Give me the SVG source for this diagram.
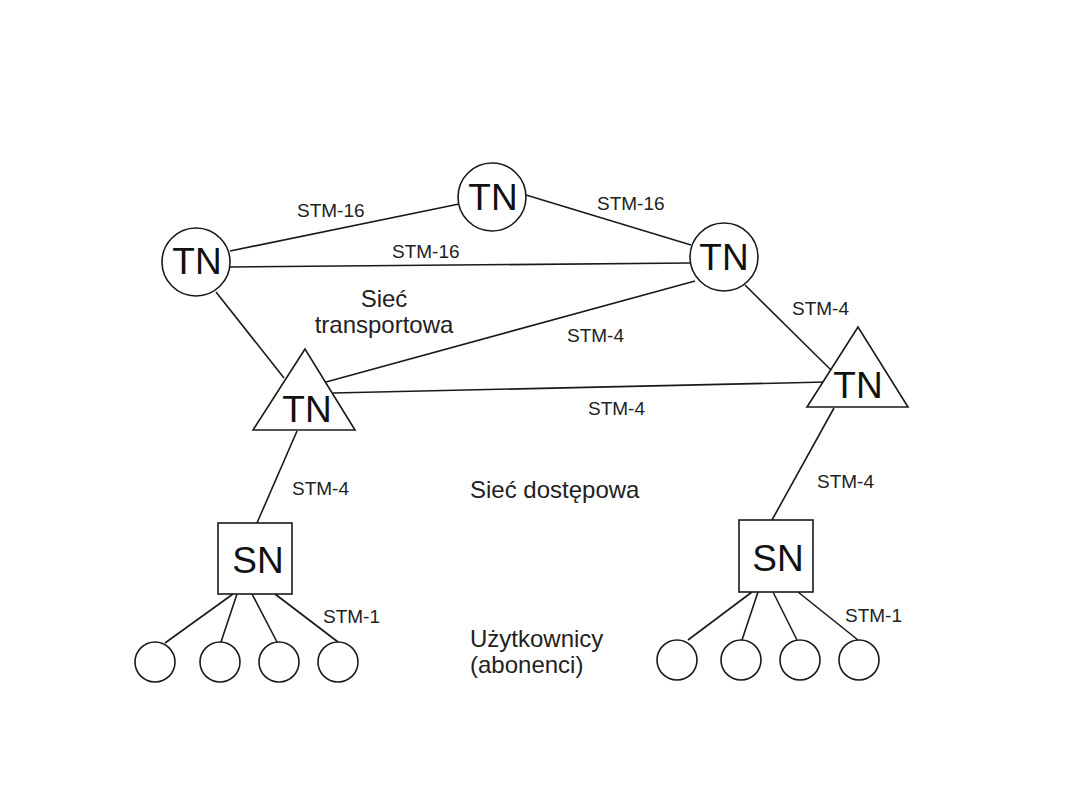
<svg xmlns="http://www.w3.org/2000/svg" width="1080" height="810" viewBox="0 0 1080 810">
<style>
.shape{fill:#fff;stroke:#1a1a1a;stroke-width:1.6}
.conn line{stroke:#1a1a1a;stroke-width:1.6}
.big{font-family:"Liberation Sans",Arial,sans-serif;font-size:37px;fill:#111;text-anchor:middle}
.lbl{font-family:"Liberation Sans",Arial,sans-serif;font-size:19px;fill:#222}
.txt{font-family:"Liberation Sans",Arial,sans-serif;font-size:24px;fill:#222}
</style>
<rect width="1080" height="810" fill="#fff"/>
<g id="connectors" class="conn">
<line x1="230" y1="251" x2="459" y2="204"/>
<line x1="526" y1="195" x2="691" y2="245"/>
<line x1="230" y1="267" x2="690" y2="263"/>
<line x1="216" y1="292" x2="284" y2="378"/>
<line x1="695" y1="281" x2="326" y2="382"/>
<line x1="333" y1="393" x2="826" y2="382"/>
<line x1="745" y1="285" x2="831" y2="370"/>
<line x1="297" y1="431" x2="257" y2="523"/>
<line x1="834" y1="408" x2="772" y2="520"/>
<line x1="233" y1="594" x2="165" y2="643"/>
<line x1="237" y1="594" x2="221" y2="642"/>
<line x1="252" y1="594" x2="277" y2="642"/>
<line x1="275" y1="594" x2="338" y2="642"/>
<line x1="752" y1="592" x2="688" y2="640"/>
<line x1="758" y1="592" x2="742" y2="640"/>
<line x1="773" y1="592" x2="797" y2="640"/>
<line x1="798" y1="592" x2="858" y2="640"/>
</g>
<g id="tn-top"><circle class="shape" cx="492" cy="197" r="34"/><text class="big" x="493" y="210">TN</text></g>
<g id="tn-left"><circle class="shape" cx="196" cy="262" r="34"/><text class="big" x="197" y="274">TN</text></g>
<g id="tn-right"><circle class="shape" cx="724" cy="257" r="34"/><text class="big" x="724" y="270">TN</text></g>
<g id="tn-tri-left"><polygon class="shape" points="305,349 253,430 355,430"/><text class="big" x="307" y="422">TN</text></g>
<g id="tn-tri-right"><polygon class="shape" points="858,327 807,407 908,407"/><text class="big" x="858" y="398">TN</text></g>
<g id="sn-left"><rect class="shape" x="218" y="523" width="74" height="71"/><text class="big" x="258" y="573">SN</text></g>
<g id="sn-right"><rect class="shape" x="739" y="520" width="74" height="72"/><text class="big" x="778" y="571">SN</text></g>
<g id="users-left">
<circle class="shape" cx="155" cy="662" r="20"/>
<circle class="shape" cx="220" cy="662" r="20"/>
<circle class="shape" cx="279" cy="662" r="20"/>
<circle class="shape" cx="338" cy="662" r="20"/>
</g>
<g id="users-right">
<circle class="shape" cx="677" cy="660" r="20"/>
<circle class="shape" cx="741" cy="660" r="20"/>
<circle class="shape" cx="800" cy="660" r="20"/>
<circle class="shape" cx="859" cy="660" r="20"/>
</g>
<g id="labels">
<text class="lbl" x="297" y="217">STM-16</text>
<text class="lbl" x="392" y="258">STM-16</text>
<text class="lbl" x="597" y="210">STM-16</text>
<text class="lbl" x="792" y="315">STM-4</text>
<text class="lbl" x="567" y="342">STM-4</text>
<text class="lbl" x="588" y="415">STM-4</text>
<text class="lbl" x="292" y="495">STM-4</text>
<text class="lbl" x="817" y="488">STM-4</text>
<text class="lbl" x="323" y="623">STM-1</text>
<text class="lbl" x="845" y="622">STM-1</text>
<text class="txt" x="384" y="307" text-anchor="middle">Sieć</text>
<text class="txt" x="384" y="333" text-anchor="middle">transportowa</text>
<text class="txt" x="470" y="498">Sieć dostępowa</text>
<text class="txt" x="470" y="647">Użytkownicy</text>
<text class="txt" x="470" y="673">(abonenci)</text>
</g>
</svg>
